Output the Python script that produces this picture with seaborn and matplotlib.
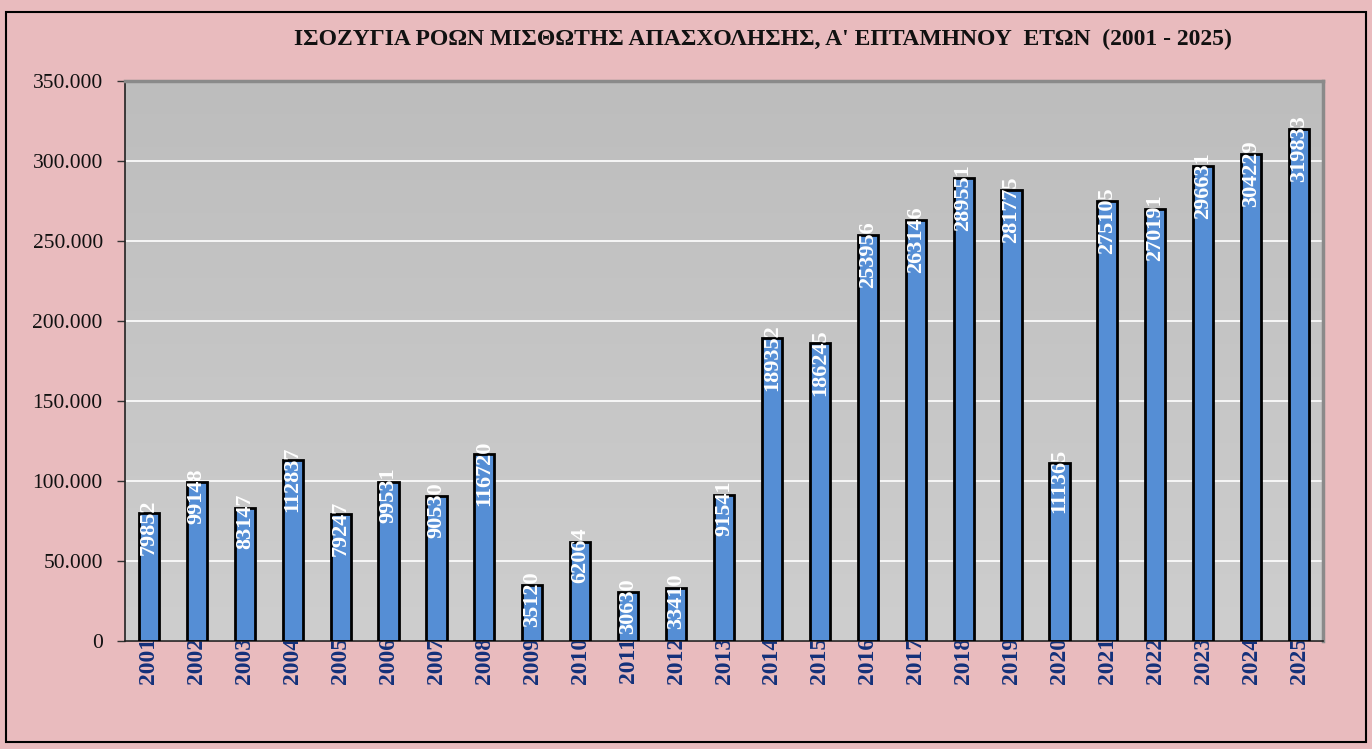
import numpy as np
import pandas as pd
import matplotlib
matplotlib.use('Agg')
import matplotlib.pyplot as plt
import seaborn as sns
from matplotlib.patches import Rectangle

# Ισοζύγιο ροών μισθωτής απασχόλησης, Α' επταμήνου (τιμές διαβασμένες από το γράφημα)
years = [str(y) for y in range(2001, 2026)]
balance = [79852, 99148, 83147, 112837, 79247, 99531, 90530, 116720,
           35120, 62064, 30630, 33410, 91541, 189352, 186245, 253956,
           263146, 289551, 281775, 111365, 275105, 270191, 296631, 304229, 319833]
yticks = list(range(0, 350001, 50000))
ytick_labels = ['0'] + [f'{v // 1000}.000' for v in yticks[1:]]
title = "ΙΣΟΖΥΓΙΑ ΡΟΩΝ ΜΙΣΘΩΤΗΣ ΑΠΑΣΧΟΛΗΣΗΣ, Α' ΕΠΤΑΜΗΝΟΥ  ΕΤΩΝ  (2001 - 2025)"

df = pd.DataFrame({'year': years, 'balance': balance})

sns.set_theme(style='white')
plt.rcParams['font.family'] = ['Liberation Serif', 'DejaVu Serif']

fig = plt.figure(figsize=(13.72, 7.49), dpi=100)
fig.patch.set_facecolor('#e9bbbe')
ax = fig.add_axes([0.0911, 0.1442, 0.8732, 0.7477])

# plot area gradient (darker at top)
grad = np.linspace(0, 1, 256).reshape(-1, 1)
cmap = matplotlib.colors.LinearSegmentedColormap.from_list('pa', ['#cecece', '#bdbdbd'])
ax.imshow(grad, cmap=cmap, aspect='auto', extent=[0, 1, 0, 1],
          transform=ax.transAxes, origin='lower', zorder=0)

sns.barplot(data=df, x='year', y='balance', color='#558ed5', saturation=1,
            edgecolor='black', linewidth=2, width=0.42, ax=ax, zorder=3)

ax.set_xlim(-0.5, len(years) - 0.5)
ax.set_ylim(0, 350000)
ax.set_yticks(yticks)
ax.set_yticklabels(ytick_labels, fontsize=15.5, color='#111111')
ax.yaxis.grid(True, color='white', linewidth=1.2, zorder=1)
ax.set_axisbelow(True)
ax.set_xlabel('')
ax.set_ylabel('')

ax.set_xticks(range(len(years)))
ax.set_xticklabels(years, rotation=90, fontsize=17, fontweight='bold',
                   color='#13307a', va='top')
ax.tick_params(axis='x', which='major', length=0, pad=-3)
ax.set_xticks(np.arange(-0.5, len(years)), minor=True)
ax.tick_params(axis='x', which='minor', length=6, width=1, color='#333333')
ax.tick_params(axis='y', length=6, width=1, color='#333333', left=True, pad=10)

for side in ['top', 'right']:
    ax.spines[side].set_color('#8a8a8a')
    ax.spines[side].set_linewidth(2.5)
for side in ['left', 'bottom']:
    ax.spines[side].set_color('#222222')
    ax.spines[side].set_linewidth(1.2)

# value labels, white, vertical, near the top of each bar
for i, v in enumerate(balance):
    ax.annotate(f'{v}', xy=(i, v), xytext=(0, 10), textcoords='offset points',
                rotation=90, ha='center', va='top', color='white',
                fontsize=16, fontweight='bold', zorder=5)

fig.text(0.556, 0.947, title, ha='center', va='center', fontsize=17,
         fontweight='bold', color='#111111')

fig.patches.append(Rectangle((0.0044, 0.0093), 0.9912, 0.9747, transform=fig.transFigure,
                             fill=False, edgecolor='black', linewidth=1.5))

fig.savefig('out.png', dpi=100, facecolor=fig.get_facecolor())
